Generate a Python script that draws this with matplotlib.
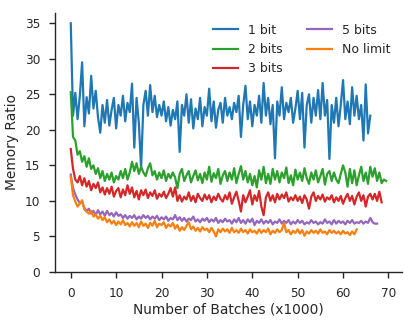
import numpy as np
import matplotlib
matplotlib.use("Agg")
import matplotlib.pyplot as plt

# memory ratio sampled every 500 batches (x axis in thousands)
step = 0.5

bit1 = [35.0, 22.0, 25.2, 21.5, 24.8, 29.5, 20.5, 24.6, 22.3, 27.6,
        23.0, 25.5, 21.8, 19.6, 23.5, 21.0, 24.2, 20.6, 22.8, 24.5,
        20.2, 23.5, 22.0, 24.8, 21.2, 23.8, 22.5, 26.5, 17.5, 24.5,
        21.0, 14.6, 23.5, 25.5, 22.0, 26.3, 22.5, 24.8, 21.8, 23.5,
        22.0, 24.0, 21.2, 23.2, 20.6, 22.8, 21.5, 24.0, 16.9, 23.5,
        22.0, 25.0, 21.0, 24.3, 20.2, 23.0, 21.5, 24.5, 20.5, 23.2,
        22.0, 25.8, 21.2, 24.0, 20.3, 22.8, 23.8, 21.0, 24.5, 22.0,
        23.2, 21.5, 23.8, 22.5, 24.8, 19.0, 23.5, 26.2, 21.5, 24.0,
        20.5, 23.5, 22.0, 24.8, 21.0, 26.6, 22.0, 24.5, 20.8, 23.5,
        16.0, 24.0, 22.0, 26.0, 21.5, 23.8, 22.5, 24.5, 21.0, 23.0,
        25.5, 21.5, 25.2, 17.5, 23.5, 25.0, 21.0, 24.5, 22.0, 25.6,
        21.5, 26.6, 22.0, 24.2, 15.9, 23.5, 21.0, 24.5, 20.5, 23.5,
        27.0, 21.5, 24.0, 20.8, 26.0, 22.0, 24.8, 21.5, 23.5, 18.5,
        26.4, 19.5, 22.0]

bit2 = [25.3, 19.0, 18.5, 16.5, 17.0, 15.5, 16.3, 14.8, 16.0, 14.5,
        15.0, 13.8, 14.6, 13.2, 14.2, 12.8, 13.8, 13.0, 14.0, 12.6,
        13.5, 13.0, 14.2, 13.2, 14.5, 13.0, 14.0, 15.5, 14.2, 15.3,
        13.8, 14.8, 14.0, 13.5, 14.6, 15.3, 13.6, 14.2, 13.0, 14.0,
        13.2, 14.3, 12.8, 13.8, 13.2, 14.0, 13.3, 11.8, 13.8, 14.5,
        12.8, 13.6, 14.2, 12.6, 13.5, 14.3, 12.9, 13.8, 12.5, 14.0,
        13.0, 14.8, 12.7, 13.9, 13.2, 14.5, 12.4, 13.6, 14.2, 12.8,
        14.0, 13.0, 14.6, 12.5, 13.8, 14.9, 13.0, 14.2, 12.6, 13.8,
        12.2, 13.5, 11.9, 14.3, 13.0, 14.8, 12.5, 13.8, 12.4, 14.5,
        13.0, 14.2, 12.6, 14.0, 13.2, 14.7, 12.5, 13.6, 12.2, 14.4,
        13.0, 14.0, 12.8, 14.6, 13.2, 12.4, 14.0, 13.0, 14.3, 12.6,
        13.5, 14.5, 12.3, 13.8, 14.2, 12.8, 14.0, 13.0, 12.5, 13.8,
        15.0, 14.0, 12.0, 14.5, 12.5, 14.3, 12.2, 13.6, 14.8, 12.8,
        14.0, 12.4, 14.8, 13.4, 14.6, 12.8, 14.0, 12.5, 13.0, 12.8]

bit3 = [17.3, 14.5, 13.0, 12.6, 13.5, 12.2, 13.2, 12.0, 12.8, 11.5,
        12.4, 11.8, 12.6, 11.2, 11.9, 10.9, 11.8, 11.0, 12.0, 10.6,
        11.4, 11.8, 10.5, 11.6, 10.8, 12.2, 11.0, 11.9, 10.5, 11.4,
        10.2, 11.5, 10.8, 11.6, 10.4, 11.2, 10.7, 11.5, 10.3, 11.0,
        10.6, 11.3, 10.4, 11.0, 11.8, 10.6, 11.9, 10.0, 10.8, 9.9,
        10.6, 10.2, 11.2, 10.0, 10.7, 9.8, 11.0, 10.4, 10.0, 10.9,
        10.2, 10.8, 9.8, 10.6, 10.1, 11.0, 10.3, 9.9, 10.8, 10.2,
        11.2, 9.6, 10.5, 11.3, 10.0, 8.5, 10.8, 9.8, 10.6, 11.5,
        9.5, 10.8, 10.0, 11.4, 9.2, 8.0, 10.5, 11.2, 10.0, 10.8,
        9.8, 11.0, 10.2, 10.9, 10.4, 11.2, 9.9, 10.5, 10.1, 10.8,
        10.0, 10.6, 9.7, 10.8, 10.2, 8.9, 10.6, 11.2, 10.0, 10.7,
        10.2, 10.9, 9.9, 10.5, 10.2, 10.8, 9.8, 10.5, 10.0, 10.7,
        9.6, 10.4, 11.0, 10.0, 10.7, 9.5, 10.6, 11.2, 10.0, 10.8,
        9.2, 10.6, 11.0, 10.2, 11.0, 10.0, 11.3, 9.8]

bit5 = [13.7, 11.8, 10.9, 10.2, 9.7, 9.9, 9.0, 8.6, 8.9, 8.2,
        8.6, 8.0, 8.7, 8.1, 8.5, 7.9, 8.6, 8.0, 8.3, 7.8,
        8.4, 7.9, 8.1, 7.6, 8.0, 7.5, 7.9, 7.6, 8.0, 7.4,
        7.8, 7.5, 8.0, 7.6, 7.9, 7.4, 7.8, 7.5, 7.9, 7.3,
        7.7, 7.4, 7.8, 7.2, 7.6, 7.4, 8.0, 7.3, 7.7, 7.2,
        7.6, 7.1, 7.5, 7.3, 7.8, 7.1, 7.4, 7.0, 7.5, 7.2,
        7.6, 7.0, 7.4, 7.1, 7.6, 6.9, 7.3, 7.0, 7.5, 7.1,
        7.3, 6.8, 7.4, 7.0, 7.6, 6.9, 7.3, 6.8, 7.4, 7.0,
        7.5, 6.6, 7.2, 6.9, 7.4, 6.8, 7.2, 6.9, 7.3, 6.7,
        7.1, 6.9, 7.4, 6.8, 7.2, 6.9, 7.3, 6.7, 7.1, 6.8,
        7.3, 6.9, 7.2, 6.7, 7.0, 6.8, 7.3, 6.9, 7.1, 6.7,
        7.0, 6.8, 7.4, 6.9, 7.1, 6.7, 7.3, 6.8, 7.2, 6.9,
        7.1, 6.7, 7.2, 6.9, 7.3, 6.8, 7.0, 6.9, 7.2, 6.8,
        7.1, 6.9, 7.6, 7.0, 6.8, 6.8]

nolimit = [13.4, 10.8, 9.9, 9.2, 9.6, 10.1, 8.8, 8.5, 8.2, 8.6,
           7.8, 8.1, 7.5, 7.9, 7.3, 7.7, 7.0, 7.4, 6.8, 7.2,
           6.6, 7.1, 6.7, 7.3, 6.6, 6.9, 6.4, 7.0, 6.5, 6.9,
           6.3, 7.1, 6.5, 6.8, 6.2, 6.9, 6.5, 7.2, 6.3, 6.8,
           6.6, 7.0, 6.2, 6.7, 6.4, 6.9, 6.1, 6.6, 5.8, 6.3,
           5.9, 6.5, 7.0, 6.0, 6.4, 5.8, 6.2, 5.7, 6.3, 5.9,
           6.1, 5.6, 6.2, 5.7, 5.0, 6.0, 5.6, 6.1, 5.7, 6.0,
           5.5, 6.2, 5.6, 5.9, 5.5, 6.1, 5.6, 5.9, 5.4, 6.0,
           5.6, 5.8, 5.4, 6.0, 5.5, 5.9, 5.6, 6.1, 5.3, 5.8,
           5.5, 6.0, 5.6, 5.9, 6.9, 5.6, 5.9, 5.3, 5.8, 5.5,
           6.0, 5.4, 5.9, 5.1, 5.7, 5.4, 5.9, 5.5, 5.8, 5.4,
           6.0, 5.5, 5.7, 5.3, 5.9, 5.5, 5.8, 5.4, 5.7, 5.3,
           5.8, 5.4, 5.6, 5.2, 5.7, 5.3, 6.0]

labels = ["1 bit", "2 bits", "3 bits", "5 bits", "No limit"]
series = [bit1, bit2, bit3, bit5, nolimit]
colors = ["tab:blue", "tab:green", "tab:red", "tab:purple", "tab:orange"]

plt.rcParams["font.family"] = "DejaVu Sans"
plt.rcParams["text.color"] = "#262626"
plt.rcParams["axes.labelcolor"] = "#262626"
plt.rcParams["xtick.color"] = "#262626"
plt.rcParams["ytick.color"] = "#262626"

fig = plt.figure(figsize=(4.15, 3.23), dpi=100)
ax = fig.add_axes([0.1325, 0.158, 0.836, 0.803])

for vals, lab, c in zip(series, labels, colors):
    x = np.arange(len(vals)) * step
    ax.plot(x, vals, color=c, lw=1.6, label=lab)

ax.set_ylim(bottom=0)
ax.set_xticks([0, 10, 20, 30, 40, 50, 60, 70])
ax.set_yticks([0, 5, 10, 15, 20, 25, 30, 35])
ax.set_xlabel("Number of Batches (x1000)", fontsize=9.9, labelpad=2)
ax.set_ylabel("Memory Ratio", fontsize=9.9, labelpad=4)

ax.spines["top"].set_visible(False)
ax.spines["right"].set_visible(False)
for s in ["left", "bottom"]:
    ax.spines[s].set_color("#262626")
    ax.spines[s].set_linewidth(1.0)
ax.tick_params(direction="out", length=4.2, width=1.0, pad=6.5, labelsize=8.7)

ax.legend(ncol=2, loc="upper right", frameon=False, fontsize=9)

plt.savefig("out.png", dpi=100)
